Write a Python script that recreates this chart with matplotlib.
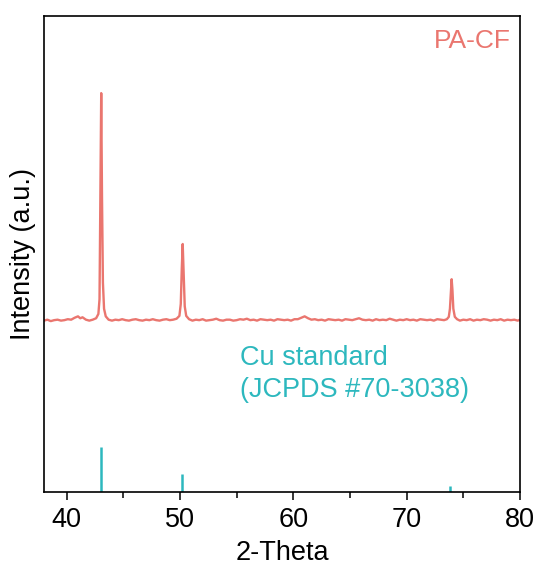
import matplotlib

matplotlib.use("Agg")
import matplotlib.pyplot as plt
from matplotlib.ticker import MultipleLocator

plt.rcParams["font.family"] = ["Liberation Sans", "DejaVu Sans"]

# PA-CF diffraction scan: (2-theta, intensity in a.u.)
scan = [
    (38.0, 36.0), (38.3, 36.2), (38.6, 35.9), (38.9, 36.1), (39.2, 36.2),
    (39.5, 36.0), (39.8, 36.1), (40.1, 36.3), (40.4, 36.2), (40.7, 36.6),
    (41.0, 36.9), (41.2, 36.5), (41.4, 36.7), (41.7, 36.2), (42.0, 36.0),
    (42.3, 36.2), (42.6, 36.5), (42.8, 37.4), (42.9, 40.5), (42.97, 60.0),
    (43.05, 83.8), (43.12, 62.0), (43.2, 44.0), (43.3, 38.5), (43.45, 36.9),
    (43.7, 36.2), (44.0, 36.0), (44.3, 36.2), (44.6, 36.1), (44.9, 36.3),
    (45.2, 36.1), (45.5, 36.0), (45.8, 36.2), (46.1, 36.3), (46.4, 36.1),
    (46.7, 36.0), (47.0, 36.2), (47.3, 36.1), (47.6, 36.3), (47.9, 36.1),
    (48.2, 36.0), (48.5, 36.2), (48.8, 36.3), (49.1, 36.1), (49.4, 36.2),
    (49.7, 36.4), (49.95, 37.0), (50.07, 39.5), (50.16, 47.0), (50.24, 52.1),
    (50.32, 46.0), (50.42, 39.0), (50.55, 37.0), (50.8, 36.3), (51.1, 36.0),
    (51.4, 36.2), (51.7, 36.1), (52.0, 36.3), (52.3, 36.0), (52.6, 36.1),
    (52.9, 36.2), (53.2, 36.4), (53.5, 36.1), (53.8, 36.0), (54.1, 36.2),
    (54.4, 36.2), (54.7, 36.0), (55.0, 36.1), (55.3, 36.3), (55.6, 36.2),
    (55.9, 36.4), (56.2, 36.1), (56.5, 36.2), (56.8, 36.0), (57.1, 36.3),
    (57.4, 36.2), (57.7, 36.1), (58.0, 36.2), (58.3, 36.0), (58.6, 36.3),
    (58.9, 36.2), (59.2, 36.1), (59.5, 36.2), (59.8, 36.0), (60.1, 36.3),
    (60.4, 36.3), (60.7, 36.6), (61.0, 36.9), (61.3, 36.5), (61.6, 36.2),
    (61.9, 36.3), (62.2, 36.1), (62.5, 36.2), (62.8, 36.0), (63.1, 36.3),
    (63.4, 36.2), (63.7, 36.1), (64.0, 36.2), (64.3, 36.0), (64.6, 36.3),
    (64.9, 36.2), (65.2, 36.1), (65.5, 36.3), (65.8, 36.5), (66.1, 36.2),
    (66.4, 36.1), (66.7, 36.2), (67.0, 36.0), (67.3, 36.3), (67.6, 36.1),
    (67.9, 36.2), (68.2, 36.1), (68.5, 36.4), (68.8, 36.2), (69.1, 36.0),
    (69.4, 36.2), (69.7, 36.1), (70.0, 36.3), (70.3, 36.1), (70.6, 36.2),
    (70.9, 36.0), (71.2, 36.3), (71.5, 36.2), (71.8, 36.1), (72.1, 36.2),
    (72.4, 36.0), (72.7, 36.3), (73.0, 36.2), (73.3, 36.1), (73.55, 36.3),
    (73.72, 36.8), (73.82, 38.5), (73.9, 42.0), (73.97, 44.7), (74.04, 42.5),
    (74.12, 38.5), (74.25, 36.8), (74.45, 36.3), (74.7, 36.0), (75.0, 36.2),
    (75.3, 36.1), (75.6, 36.3), (75.9, 36.0), (76.2, 36.2), (76.5, 36.1),
    (76.8, 36.3), (77.1, 36.2), (77.4, 36.0), (77.7, 36.2), (78.0, 36.1),
    (78.3, 36.3), (78.6, 36.0), (78.9, 36.2), (79.2, 36.1), (79.5, 36.2),
    (79.8, 36.0), (80.0, 36.2),
]
two_theta = [p[0] for p in scan]
intensity = [p[1] for p in scan]

# Cu standard reference lines (JCPDS #70-3038)
cu_positions = [43.05, 50.2, 73.85]
cu_heights = [9.5, 3.8, 1.3]

red = "#EA766F"
teal = "#2DB8BE"

fig = plt.figure(figsize=(5.39, 5.72), dpi=100)
ax = fig.add_axes([0.0816, 0.1399, 0.8831, 0.8321])

ax.plot(two_theta, intensity, color=red, lw=1.7)
ax.vlines(cu_positions, 0, cu_heights, color=teal, lw=1.8)

ax.text(0.98, 0.972, "PA-CF", transform=ax.transAxes, ha="right", va="top",
        color=red, fontsize=19)
ax.text(55.3, 30.8, "Cu standard\n(JCPDS #70-3038)", ha="left", va="top",
        color=teal, fontsize=19.5, linespacing=1.3)

ax.set_xlim(38, 80)
ax.set_ylim(0, 100)
ax.xaxis.set_major_locator(MultipleLocator(10))
ax.xaxis.set_minor_locator(MultipleLocator(5))
ax.tick_params(axis="x", which="major", direction="out", length=6, width=1.1,
               labelsize=19.5, pad=5)
ax.tick_params(axis="x", which="minor", direction="out", length=4, width=1.1)
ax.set_yticks([])
for spine in ax.spines.values():
    spine.set_linewidth(1.2)

ax.set_xlabel("2-Theta", fontsize=19.5, labelpad=5)
ax.set_ylabel("Intensity (a.u.)", fontsize=19.5, labelpad=6)

fig.savefig("out.png", dpi=100)
